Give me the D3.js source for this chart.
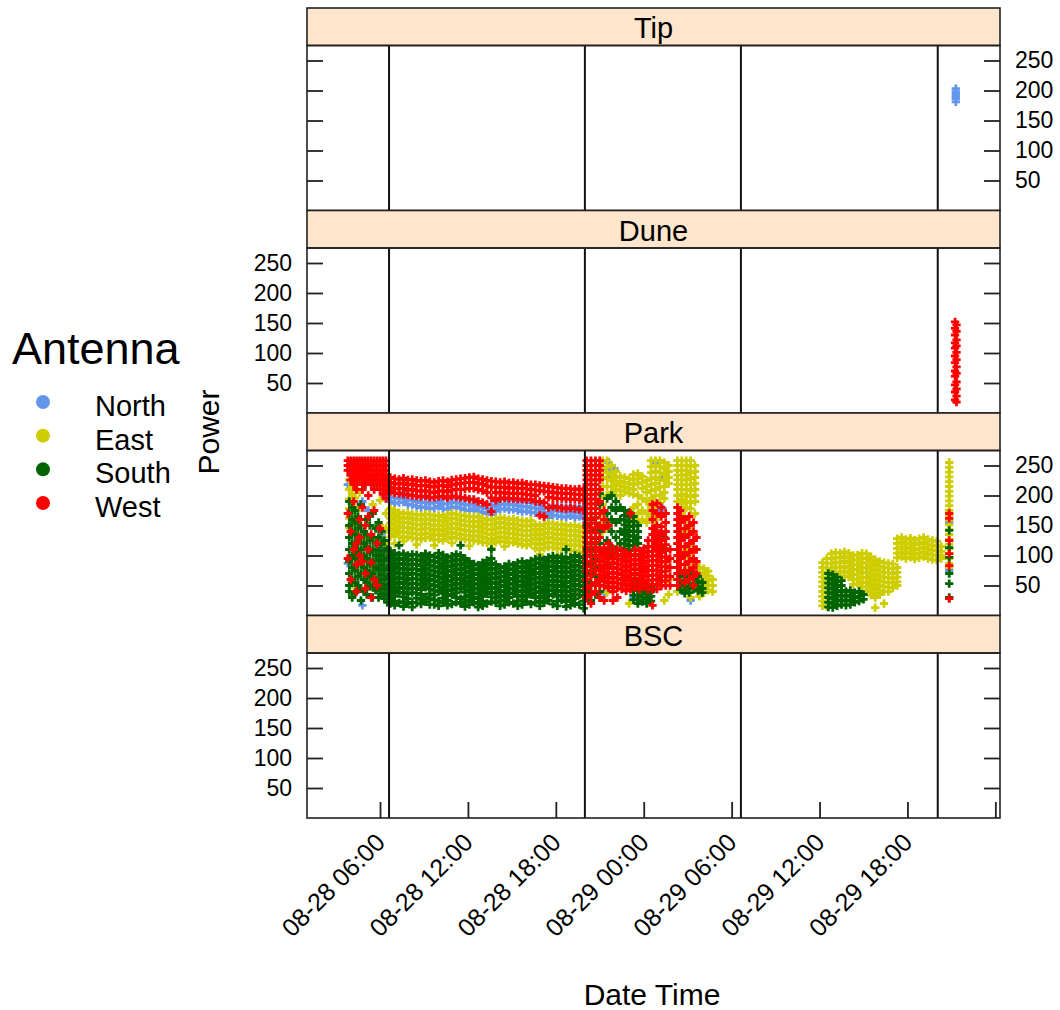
<!DOCTYPE html>
<html>
<head>
<meta charset="utf-8">
<script src="https://cdn.jsdelivr.net/npm/d3@7"></script>
<style>
  body { margin: 0; background: #fff; }
  svg text { font-family: "Liberation Sans", Arial, sans-serif; fill: #000; }
</style>
</head>
<body>
<div id="chart"></div>
<script>
// ---- data ----
const panelNames = ["Tip", "Dune", "Park", "BSC"];
const antennas = ["North", "East", "South", "West"];
const antennaColors = ["#6495ED", "#CDCD00", "#006400", "#FF0000"];
const yTicks = [50, 100, 150, 200, 250];
const xDomain = ["2015-08-28T01:01:00Z", "2015-08-30T00:19:00Z"];
const tickTimes = ["2015-08-28T06:00:00Z", "2015-08-28T12:00:00Z", "2015-08-28T18:00:00Z", "2015-08-29T00:00:00Z",
                   "2015-08-29T06:00:00Z", "2015-08-29T12:00:00Z", "2015-08-29T18:00:00Z", "2015-08-30T00:00:00Z"];
const tickLabels = ["08-28 06:00", "08-28 12:00", "08-28 18:00", "08-29 00:00", "08-29 06:00", "08-29 12:00", "08-29 18:00", ""];
const sunLines = ["2015-08-28T06:37:00Z", "2015-08-28T19:59:00Z", "2015-08-29T06:38:00Z", "2015-08-29T20:04:00Z"];

// rows: [hours since 08-28 00:00, power, power, ...]
const tipNorth = [[45.3, 203, 198, 194, 190, 186, 181]];

const duneWest = [
  [45.25, 152, 141, 130, 117, 108, 95, 84, 70, 61, 47, 35, 22],
  [45.35, 147, 136, 122, 112, 101, 89, 77, 66, 52, 40, 28, 18]
];

const parkNorth = [
  [3.8, 87, 218], [4.0, 233, 150], [4.3, 220, 120], [4.8, 17, 190], [5.2, 245, 175], [5.7, 50, 230], [6.0, 233, 110], [6.3, 200, 140],
  [6.7, 206, 198, 190], [7.0, 204, 196, 187], [7.3, 203, 195, 188], [7.6, 205, 197, 189], [7.9, 201, 193, 185],
  [8.2, 200, 192, 184], [8.5, 199, 190, 182], [8.8, 196, 188, 180], [9.1, 197, 189, 181], [9.4, 195, 187, 178],
  [9.7, 196, 188, 179], [10.0, 198, 190, 182], [10.3, 195, 186, 178], [10.6, 194, 186, 177], [10.9, 196, 188, 180],
  [11.2, 197, 189, 181], [11.5, 195, 187, 179], [11.8, 193, 185, 176], [12.1, 192, 184, 175], [12.4, 194, 186, 178],
  [12.7, 190, 182, 174], [13.0, 188, 180, 172], [13.3, 186, 178, 170], [13.6, 184, 176, 168], [13.9, 190, 182, 174],
  [14.2, 193, 185, 177], [14.5, 194, 186, 178], [14.8, 192, 184, 176], [15.1, 193, 185, 177], [15.4, 191, 183, 175],
  [15.7, 189, 181, 173], [16.0, 190, 182, 174], [16.3, 188, 180, 172], [16.6, 187, 179, 171], [16.9, 185, 177, 169],
  [17.2, 180, 172, 165], [17.5, 178, 170, 163], [17.8, 183, 175, 167], [18.1, 182, 174, 166], [18.4, 181, 173, 165],
  [18.7, 180, 172, 164], [19.0, 182, 174, 166], [19.3, 179, 171, 163], [19.6, 181, 173, 165], [19.9, 178, 170, 162],
  [21.3, 37], [21.6, 255, 240, 230], [22.0, 245, 232], [22.6, 95, 60], [23.3, 30], [24.8, 255, 240],
  [25.0, 185, 175, 165], [25.3, 178, 230], [26.5, 140], [27.2, 25],
  [44.85, 155, 75]
];

const parkEast = [
  [3.9, 242, 226, 210, 194, 178, 162, 146], [4.1, 235, 218, 202, 186, 170, 150, 33], [4.3, 228, 212, 196, 160, 138, 47],
  [4.6, 240, 205, 180], [5.0, 220, 130, 60], [5.5, 185, 75], [6.0, 192, 150, 100], [6.4, 170, 145, 120],
  [6.7, 178, 170, 162, 154, 146, 138, 131], [7.0, 175, 167, 159, 151, 143, 135, 120],
  [7.3, 172, 164, 156, 148, 140, 132], [7.6, 170, 162, 154, 146, 138, 130, 124],
  [7.9, 171, 163, 155, 147, 139, 131], [8.2, 169, 161, 153, 145, 137, 129],
  [8.5, 168, 160, 152, 144, 136, 128, 118], [8.8, 167, 159, 151, 143, 135, 127],
  [9.1, 169, 161, 153, 145, 137, 129], [9.4, 168, 160, 152, 144, 136, 130],
  [9.7, 166, 158, 150, 142, 134, 126, 117], [10.0, 167, 159, 151, 143, 135, 127],
  [10.3, 165, 157, 149, 141, 133, 125], [10.6, 168, 160, 152, 144, 136, 128],
  [10.9, 170, 162, 154, 146, 138, 130, 121], [11.2, 169, 161, 153, 145, 137, 129],
  [11.5, 167, 159, 151, 143, 135, 128], [11.8, 166, 158, 150, 142, 134, 127],
  [12.1, 165, 157, 149, 141, 133, 126, 116], [12.4, 164, 156, 148, 140, 132, 125],
  [12.7, 165, 157, 149, 141, 133, 124], [13.0, 162, 154, 146, 138, 130, 122],
  [13.3, 160, 152, 144, 136, 128, 121], [13.6, 159, 151, 143, 135, 127, 120, 112],
  [13.9, 161, 153, 145, 137, 129, 122], [14.2, 163, 155, 147, 139, 131, 124],
  [14.5, 162, 154, 146, 138, 130, 123, 115], [14.8, 160, 152, 144, 136, 128, 121],
  [15.1, 161, 153, 145, 137, 129, 122], [15.4, 159, 151, 143, 135, 127, 120],
  [15.7, 158, 150, 142, 134, 126, 118], [16.0, 157, 149, 141, 133, 125, 117],
  [16.3, 158, 150, 142, 134, 126, 119], [16.6, 152, 144, 136, 128, 120, 112],
  [16.9, 150, 142, 134, 126, 118, 110, 102], [17.2, 152, 144, 136, 128, 120, 112],
  [17.5, 154, 146, 138, 130, 122, 114, 96], [17.8, 153, 145, 137, 129, 121, 113],
  [18.1, 151, 143, 135, 127, 119, 111, 100], [18.4, 152, 144, 136, 128, 120, 112],
  [18.7, 150, 142, 134, 126, 118, 110], [19.0, 149, 141, 133, 125, 117, 109, 92],
  [19.3, 150, 142, 134, 126, 118, 108], [19.6, 148, 140, 132, 124, 116, 106],
  [19.9, 147, 139, 131, 123, 115, 105, 98],
  [21.2, 258, 245, 230, 215, 200, 185, 170, 155, 140], [21.5, 258, 248, 238, 228, 215, 200, 150, 38],
  [21.8, 250, 235, 225, 215, 205], [22.1, 240, 230, 220, 210, 200], [22.4, 232, 224, 216, 208, 200],
  [22.7, 230, 222, 214, 206], [23.0, 228, 220, 212, 204, 150, 47, 20], [23.3, 235, 226, 218, 210, 202, 180, 160],
  [23.6, 237, 228, 220, 200, 185, 170, 155], [23.9, 232, 222, 212, 195, 175, 160], [24.2, 225, 215, 205, 190, 170, 155],
  [24.5, 258, 248, 238, 228, 218, 208, 195, 180, 165], [24.8, 258, 250, 240, 230, 220, 210, 200, 185, 170, 160],
  [25.1, 258, 248, 238, 226, 214, 200, 188], [25.4, 255, 245, 235, 225, 215, 205, 195, 25],
  [25.7, 250, 240, 230, 220, 80, 60, 35],
  [26.3, 258, 250, 242, 234, 226, 218, 210, 200, 190, 150, 120, 90, 60, 40],
  [26.6, 258, 250, 242, 234, 226, 218, 210, 202, 194, 186, 170, 130, 100],
  [26.9, 258, 250, 242, 234, 226, 218, 210, 200, 190, 180, 160, 140, 110, 75, 45],
  [27.2, 258, 248, 238, 228, 218, 208, 198, 188, 178, 150, 120, 95, 30],
  [27.5, 250, 240, 230, 220, 210, 200, 190, 170, 110, 85],
  [27.8, 80, 72, 64, 56, 48, 40, 32], [28.1, 78, 70, 62, 54, 46, 38], [28.4, 74, 66, 58, 50, 42], [28.7, 60, 50, 40],
  [36.2, 88, 80, 72, 64, 56, 48, 40, 32, 24, 16], [36.5, 95, 87, 79, 71, 63, 55, 47, 39, 31, 23, 15],
  [36.8, 103, 95, 87, 79, 71, 63], [37.1, 105, 97, 89, 81, 73], [37.4, 104, 96, 88, 80, 72],
  [37.7, 106, 98, 90, 82, 74, 66], [38.0, 104, 96, 88, 80, 72, 64], [38.3, 100, 92, 84, 76, 68, 60, 52],
  [38.6, 101, 93, 85, 77, 69, 61, 53], [38.9, 104, 96, 88, 80, 72, 64, 56, 48],
  [39.2, 103, 95, 87, 79, 71, 63, 55, 47, 40], [39.5, 98, 90, 82, 74, 66, 58, 50, 42, 34],
  [39.8, 93, 85, 77, 69, 61, 53, 45, 37, 30, 13], [40.1, 90, 82, 74, 66, 58, 50, 42, 35],
  [40.4, 88, 80, 72, 64, 56, 48, 40, 20], [40.7, 87, 79, 71, 63, 55, 47, 40], [41.0, 86, 78, 70, 62, 54, 46],
  [41.3, 128, 120, 112, 104, 96, 80, 72, 64, 56, 50], [41.6, 130, 122, 114, 106, 98], [41.9, 127, 119, 111, 103, 95],
  [42.2, 129, 121, 113, 105, 97], [42.5, 126, 118, 110, 102, 94], [42.8, 128, 120, 112, 104, 96],
  [43.1, 130, 122, 114, 106, 98], [43.4, 127, 119, 111, 103, 95], [43.7, 125, 117, 109, 101, 93],
  [44.0, 124, 116, 108, 100, 92], [44.3, 115, 107, 100, 95],
  [44.85, 255, 247, 239, 231, 223, 215, 207, 199, 191, 183, 175, 167, 159, 151, 143, 135, 127, 119, 111, 103, 95, 87, 80]
];

const parkSouth = [
  [3.9, 190, 170, 150, 130, 110, 90, 70, 50, 40], [4.1, 180, 160, 140, 120, 100, 80, 60, 30],
  [4.3, 175, 155, 135, 115, 95, 75, 55, 38], [4.5, 165, 145, 125, 105, 85, 65, 50],
  [4.7, 185, 150, 130, 110, 90, 70, 45, 25], [4.9, 140, 120, 100, 80, 60, 40],
  [5.1, 160, 135, 115, 95, 75, 55, 35], [5.3, 150, 125, 105, 85, 65, 48],
  [5.5, 170, 130, 110, 90, 70, 50, 30], [5.7, 145, 120, 100, 80, 60, 42],
  [5.9, 155, 130, 108, 92, 76, 60, 45, 30], [6.1, 140, 118, 100, 84, 68, 52, 36],
  [6.3, 125, 108, 92, 76, 60, 44, 28], [6.5, 110, 95, 80, 65, 50, 35, 22],
  [6.7, 108, 100, 92, 84, 76, 68, 60, 52, 44, 36, 28, 20], [7.0, 104, 96, 88, 80, 72, 64, 56, 48, 40, 32, 24, 17],
  [7.3, 117, 101, 93, 85, 77, 69, 61, 53, 45, 37, 21], [7.6, 103, 95, 87, 79, 71, 63, 55, 47, 39, 31, 23, 15],
  [7.9, 100, 92, 84, 76, 68, 60, 52, 44, 36, 28, 20], [8.2, 102, 94, 86, 78, 70, 62, 54, 46, 38, 22, 14],
  [8.5, 101, 93, 85, 77, 69, 61, 53, 45, 37, 29, 21], [8.8, 99, 91, 83, 75, 67, 59, 51, 43, 35, 27, 19],
  [9.1, 103, 95, 87, 79, 71, 63, 55, 47, 31, 23], [9.4, 100, 92, 84, 76, 68, 60, 52, 44, 36, 28, 18],
  [9.7, 98, 90, 82, 74, 66, 58, 50, 42, 34, 26, 18], [10.0, 104, 96, 88, 80, 72, 64, 56, 48, 40, 24, 16],
  [10.3, 101, 93, 85, 77, 69, 61, 53, 45, 37, 29, 21], [10.6, 97, 89, 81, 73, 65, 57, 49, 41, 33, 25, 17],
  [10.9, 99, 91, 83, 75, 67, 59, 51, 43, 35, 19], [11.2, 102, 94, 86, 78, 70, 62, 54, 46, 38, 30, 22],
  [11.5, 117, 100, 92, 84, 76, 68, 60, 52, 44, 28, 20], [11.8, 95, 87, 79, 71, 63, 55, 47, 39, 31, 23, 15],
  [12.1, 90, 82, 74, 66, 58, 50, 42, 34, 26, 18], [12.4, 86, 78, 70, 62, 54, 46, 38, 30, 22],
  [12.7, 84, 76, 68, 60, 52, 44, 36, 28, 20, 14], [13.0, 88, 80, 72, 64, 56, 48, 40, 32, 24, 16],
  [13.3, 92, 84, 76, 68, 60, 52, 44, 36, 20], [13.6, 110, 95, 87, 79, 71, 63, 55, 47, 39, 31, 23],
  [13.9, 85, 77, 69, 61, 53, 45, 37, 29, 21], [14.2, 80, 72, 64, 56, 48, 40, 32, 24, 16],
  [14.5, 82, 74, 66, 58, 50, 42, 34, 26, 18], [14.8, 86, 78, 70, 62, 54, 46, 38, 30, 22],
  [15.1, 84, 76, 68, 60, 52, 44, 36, 20], [15.4, 88, 80, 72, 64, 56, 48, 40, 32, 24, 16],
  [15.7, 90, 82, 74, 66, 58, 50, 42, 34, 26, 18], [16.0, 87, 79, 71, 63, 55, 47, 39, 31, 23],
  [16.3, 91, 83, 75, 67, 59, 51, 43, 35, 19], [16.6, 94, 86, 78, 70, 62, 54, 46, 38, 30, 22],
  [16.9, 96, 88, 80, 72, 64, 56, 48, 40, 32, 24, 16], [17.2, 93, 85, 77, 69, 61, 53, 45, 37, 29, 21],
  [17.5, 97, 89, 81, 73, 65, 57, 49, 41, 33, 25], [17.8, 99, 91, 83, 75, 67, 59, 51, 43, 35, 19],
  [18.1, 96, 88, 80, 72, 64, 56, 48, 40, 32, 24, 16], [18.4, 98, 90, 82, 74, 66, 58, 50, 42, 34, 26],
  [18.7, 110, 95, 87, 79, 71, 63, 55, 47, 39, 31, 23, 15], [19.0, 97, 89, 81, 73, 65, 57, 49, 41, 33, 25, 17],
  [19.3, 100, 92, 84, 76, 68, 60, 52, 44, 36, 28, 20], [19.6, 98, 90, 82, 74, 66, 58, 50, 42, 34, 18],
  [19.9, 96, 88, 80, 72, 64, 56, 48, 40, 32, 24, 12],
  [20.1, 150, 130, 110, 90, 75, 60, 45, 30], [20.4, 160, 140, 120, 100, 85, 70, 55, 40, 25],
  [20.7, 163, 145, 128, 110, 95, 80, 65, 50, 35], [21.0, 203, 185, 140, 120, 100, 80, 60, 40, 30],
  [21.5, 195, 170, 150, 125, 100, 85], [21.8, 200, 180, 160, 140, 113, 100], [22.1, 190, 175, 155, 130, 110],
  [22.4, 180, 160, 140, 120], [22.7, 175, 167, 159, 151, 143, 135, 127, 119, 111],
  [23.0, 172, 164, 156, 148, 140, 132, 124, 116, 108], [23.3, 165, 157, 149, 141, 133, 125, 117, 58, 50, 42, 34, 26],
  [23.6, 150, 140, 130, 120, 58, 50, 42, 34, 26, 20], [23.9, 55, 47, 39, 31, 23], [24.2, 52, 44, 36, 28, 20],
  [24.5, 48, 40, 32, 24], [25.1, 137, 125, 115], [25.4, 130, 112],
  [26.5, 75, 67, 59, 51, 43], [26.8, 73, 65, 57, 49, 41, 37], [27.1, 70, 62, 54, 46, 38], [27.4, 68, 60, 52, 44],
  [27.7, 65, 57, 49, 41], [28.0, 55, 45, 38],
  [36.6, 70, 62, 54, 46, 38, 30, 22, 14], [36.9, 68, 60, 52, 44, 36, 28, 20, 13], [37.2, 64, 56, 48, 40, 32, 24, 16],
  [37.5, 58, 50, 42, 34, 26, 18], [37.8, 40, 32, 24, 17], [38.1, 42, 34, 26, 18], [38.4, 38, 30, 22],
  [38.7, 40, 32, 24], [39.0, 35, 27],
  [44.85, 142, 113, 97, 70, 53, 30]
];

const parkWest = [
  [3.8, 258, 250, 242, 170, 95], [4.0, 258, 250, 242, 234, 226, 140, 60],
  [4.2, 258, 250, 242, 234, 226, 218, 190, 110], [4.4, 258, 250, 242, 234, 226, 218, 210, 120, 85, 40],
  [4.6, 258, 250, 242, 234, 226, 160, 130, 100], [4.8, 258, 250, 242, 234, 226, 218, 210, 180, 90],
  [5.0, 258, 250, 242, 234, 226, 218, 150, 70, 45], [5.2, 258, 250, 242, 234, 226, 200, 165, 110],
  [5.4, 258, 250, 242, 234, 226, 218, 135, 88, 30], [5.6, 258, 250, 242, 234, 226, 218, 210, 175, 60],
  [5.8, 258, 250, 242, 234, 226, 218, 120, 50], [6.0, 258, 250, 242, 234, 226, 218, 210, 145],
  [6.2, 258, 250, 242, 234, 226, 218, 210, 202], [6.4, 258, 250, 242, 234, 226, 218, 210, 195],
  [6.55, 230, 222, 214, 207],
  [6.7, 230, 222, 214, 207], [7.0, 228, 220, 212, 204], [7.3, 227, 219, 211, 203], [7.6, 229, 221, 212, 202],
  [7.9, 226, 218, 209, 201], [8.2, 227, 219, 210, 200], [8.5, 225, 217, 208, 199], [8.8, 224, 216, 207, 198],
  [9.1, 225, 217, 208, 199], [9.4, 223, 215, 206, 197], [9.7, 222, 214, 205, 197], [10.0, 224, 216, 207, 198],
  [10.3, 225, 217, 208, 199], [10.6, 223, 215, 206, 196], [10.9, 226, 218, 209, 199], [11.2, 227, 219, 210, 198],
  [11.5, 228, 220, 210, 197], [11.8, 229, 221, 211, 196], [12.1, 230, 222, 212, 194], [12.4, 231, 222, 212, 193],
  [12.7, 228, 220, 210, 190], [13.0, 227, 219, 208, 188], [13.3, 225, 216, 205, 185], [13.6, 224, 214, 196, 173],
  [13.9, 223, 214, 205, 192], [14.2, 222, 213, 204, 195], [14.5, 223, 214, 205, 196], [14.8, 221, 212, 203, 195],
  [15.1, 222, 213, 204, 195], [15.4, 220, 212, 203, 194], [15.7, 221, 212, 203, 194], [16.0, 219, 211, 202, 193],
  [16.3, 218, 210, 201, 193], [16.6, 218, 209, 200, 190], [16.9, 217, 208, 190, 167], [17.2, 216, 207, 188, 165],
  [17.5, 215, 206, 197, 180], [17.8, 214, 205, 196, 182], [18.1, 213, 204, 195, 180], [18.4, 212, 204, 195, 179],
  [18.7, 212, 203, 194, 178], [19.0, 211, 203, 194, 179], [19.3, 210, 202, 193, 178], [19.6, 211, 202, 193, 177],
  [19.9, 209, 201, 192, 176],
  [20.1, 258, 250, 242, 234, 226, 218, 210, 202, 194, 186, 178, 170, 162, 154, 146, 138, 130, 122, 114, 106, 98, 90, 82, 74, 60, 45, 30],
  [20.4, 258, 250, 242, 234, 226, 218, 210, 202, 194, 186, 178, 170, 162, 154, 146, 138, 130, 122, 114, 106, 98, 90, 82, 74, 66, 50, 35, 20],
  [20.7, 258, 250, 242, 234, 226, 218, 210, 202, 194, 186, 178, 170, 162, 154, 146, 138, 130, 122, 114, 106, 98, 90, 75, 55, 40],
  [21.0, 258, 250, 242, 234, 226, 210, 190, 170, 150, 130, 110, 100, 92, 84, 76, 68, 60, 50, 30],
  [21.3, 175, 160, 145, 113, 105, 97, 89, 81, 73, 65, 57, 49, 25], [21.6, 150, 120, 110, 102, 94, 86, 78, 70, 62, 54, 46],
  [21.9, 112, 104, 96, 88, 80, 72, 64, 56, 48, 40, 25], [22.2, 110, 102, 94, 86, 78, 70, 62, 54, 46, 30],
  [22.5, 108, 100, 92, 84, 76, 68, 60, 52, 44], [22.8, 105, 97, 89, 81, 73, 65, 57, 49, 41],
  [23.1, 170, 100, 92, 84, 76, 68, 60, 52, 44], [23.4, 110, 102, 94, 86, 78, 70, 62, 54, 46],
  [23.7, 108, 100, 92, 84, 76, 68, 60, 52, 44], [24.0, 112, 104, 96, 88, 80, 72, 64, 56, 48],
  [24.3, 125, 115, 107, 99, 91, 83, 75, 67, 59, 51, 43],
  [24.6, 185, 175, 160, 145, 135, 125, 115, 107, 99, 91, 83, 75, 67, 59, 51, 43, 17],
  [24.9, 187, 170, 150, 140, 130, 120, 110, 100, 92, 84, 76, 68, 60, 52, 44],
  [25.2, 180, 165, 148, 135, 125, 115, 105, 97, 89, 81, 73, 65, 57, 49],
  [25.5, 170, 155, 140, 128, 118, 108, 98, 90, 82, 74, 66, 58, 50], [25.8, 110, 95, 80, 65, 50],
  [26.3, 180, 170, 160, 150, 140, 130, 120, 110, 100, 90, 80, 70, 60, 50],
  [26.5, 175, 165, 155, 145, 135, 125, 115, 105, 95, 85, 75], [26.8, 160, 145, 130, 115, 100, 85, 70, 55],
  [27.1, 165, 150, 135, 120, 105, 90, 75, 60], [27.4, 155, 140, 125, 110, 95, 80, 65, 50], [27.6, 130, 110, 90, 70],
  [44.85, 170, 162, 125, 103, 83, 28]
];

const panelData = {
  Tip: { North: tipNorth },
  Dune: { West: duneWest },
  Park: { North: parkNorth, East: parkEast, South: parkSouth, West: parkWest },
  BSC: {}
};

// ---- layout ----
const W = 1060, H = 1010;
const left = 307, right = 1000;
const top0 = 8, stripH = 37.5, panelH = 165;
const t0 = Date.UTC(2015, 7, 28);
const toDate = h => new Date(t0 + h * 36e5);

const svg = d3.select("#chart").append("svg")
  .attr("width", W).attr("height", H);

const x = d3.scaleUtc()
  .domain(xDomain.map(s => new Date(s)))
  .range([left, right]);

const color = d3.scaleOrdinal().domain(antennas).range(antennaColors);
const sym = d3.symbol().type(d3.symbolCross).size(38);

panelNames.forEach((name, i) => {
  const stripTop = top0 + i * (stripH + panelH);
  const pTop = stripTop + stripH;
  const pBottom = pTop + panelH;
  const y = d3.scaleLinear().domain([0, 275]).range([pBottom, pTop]);
  const labelsRight = i % 2 === 0;

  const g = svg.append("g");

  // strip
  g.append("rect")
    .attr("x", left).attr("y", stripTop)
    .attr("width", right - left).attr("height", stripH)
    .attr("fill", "#FFE5CC").attr("stroke", "#222").attr("stroke-width", 1.6);
  g.append("text")
    .attr("x", (left + right) / 2).attr("y", stripTop + 30)
    .attr("text-anchor", "middle")
    .style("font-size", "29px")
    .text(name);

  // points, drawn in antenna order
  const series = panelData[name];
  antennas.forEach(a => {
    if (!series[a]) return;
    const pts = series[a].flatMap(([h, ...ps]) => ps.map(p => ({ t: toDate(h), p })));
    g.append("g").selectAll("path")
      .data(pts)
      .join("path")
      .attr("d", sym)
      .attr("transform", d => `translate(${x(d.t)},${y(d.p)})`)
      .attr("fill", color(a));
  });

  // reference lines
  g.selectAll("line.sun")
    .data(sunLines)
    .join("line")
    .attr("class", "sun")
    .attr("x1", d => x(new Date(d))).attr("x2", d => x(new Date(d)))
    .attr("y1", pTop).attr("y2", pBottom)
    .attr("stroke", "#111").attr("stroke-width", 2);

  // y axes, ticks pointing inside
  const axL = g.append("g").attr("transform", `translate(${left},0)`)
    .call(d3.axisLeft(y).tickValues(yTicks).tickSize(-16).tickSizeOuter(0).tickPadding(15)
      .tickFormat(labelsRight ? () => "" : d3.format("d")));
  const axR = g.append("g").attr("transform", `translate(${right},0)`)
    .call(d3.axisRight(y).tickValues(yTicks).tickSize(-16).tickSizeOuter(0).tickPadding(15)
      .tickFormat(labelsRight ? d3.format("d") : () => ""));
  [axL, axR].forEach(ax => {
    ax.select(".domain").remove();
    ax.selectAll("line").attr("stroke", "#222").attr("stroke-width", 1.8);
    ax.selectAll("text").style("font-size", "23px").attr("fill", "#000");
  });

  // panel frame
  g.append("rect")
    .attr("x", left).attr("y", pTop)
    .attr("width", right - left).attr("height", panelH)
    .attr("fill", "none").attr("stroke", "#222").attr("stroke-width", 1.6);

  // bottom time axis on last panel
  if (i === panelNames.length - 1) {
    const ax = g.append("g").attr("transform", `translate(0,${pBottom})`)
      .call(d3.axisBottom(x)
        .tickValues(tickTimes.map(s => new Date(s)))
        .tickSize(-16).tickSizeOuter(0)
        .tickFormat((d, k) => tickLabels[k]));
    ax.select(".domain").remove();
    ax.selectAll("line").attr("stroke", "#222").attr("stroke-width", 1.8);
    ax.selectAll("text")
      .attr("x", 6).attr("y", 26).attr("dy", 0)
      .attr("text-anchor", "end")
      .attr("transform", "rotate(-45,6,26)")
      .attr("fill", "#000")
      .style("font-size", "25px");
  }
});

// axis titles
svg.append("text")
  .attr("transform", "translate(219,432) rotate(-90)")
  .attr("text-anchor", "middle")
  .style("font-size", "30px")
  .text("Power");

svg.append("text")
  .attr("x", 652).attr("y", 1005)
  .attr("text-anchor", "middle")
  .style("font-size", "30px")
  .text("Date Time");

// legend
const legend = svg.append("g");
legend.append("text")
  .attr("x", 12).attr("y", 364)
  .style("font-size", "45px")
  .text("Antenna");

const rowY = d3.scalePoint().domain(antennas).range([402, 503]);
const items = legend.selectAll("g.item")
  .data(antennas)
  .join("g")
  .attr("class", "item")
  .attr("transform", d => `translate(0,${rowY(d)})`);
items.append("circle")
  .attr("cx", 43).attr("cy", 0).attr("r", 7)
  .attr("fill", d => color(d));
items.append("text")
  .attr("x", 95).attr("y", 14)
  .style("font-size", "29px")
  .text(d => d);
</script>
</body>
</html>
